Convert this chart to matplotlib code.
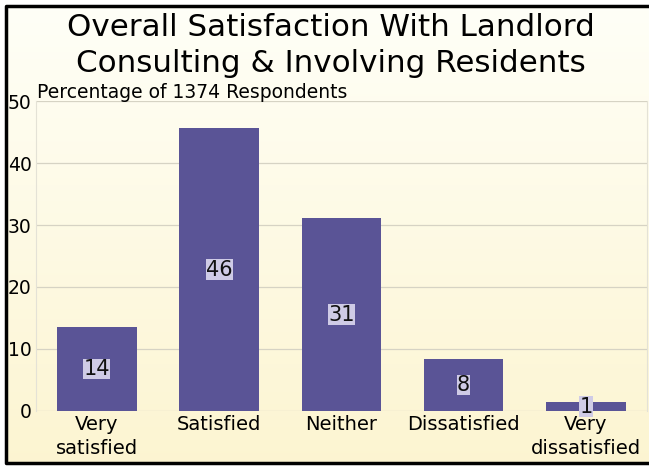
import numpy as np
import matplotlib.pyplot as plt

# data
categories = ["Very\nsatisfied", "Satisfied", "Neither", "Dissatisfied", "Very\ndissatisfied"]
values = [13.5, 45.6, 31.1, 8.3, 1.4]
labels = ["14", "46", "31", "8", "1"]
yticks = [0, 10, 20, 30, 40, 50]

BAR_COLOR = "#5a5496"
LABEL_BOX = "#cfcbe6"
W, H = 649, 468


def main():
    fig = plt.figure(figsize=(W / 100, H / 100), dpi=100)
    fig.patch.set_facecolor("white")

    # background gradient inside the frame: white at top -> pale yellow at bottom
    x0, y0, y1 = 6 / W, 1 - 463 / H, 1 - 6 / H
    bg = fig.add_axes([x0, y0, 1 - x0 + 0.01, y1 - y0], zorder=-10)
    top = np.array([1.0, 1.0, 0.97])
    bottom = np.array([0.99, 0.96, 0.82])
    t = np.linspace(0, 1, 256)[:, None]
    grad = top * (1 - t) + bottom * t
    bg.imshow(grad[:, None, :].repeat(2, axis=1), aspect="auto", extent=[0, 1, 0, 1])
    bg.set_axis_off()
    # black frame, open on the right (cropped)
    bg.plot([1.05, 0, 0, 1.05], [1, 1, 0, 0], color="black", linewidth=2.5,
            transform=bg.transAxes, clip_on=False)

    ax = fig.add_axes([0.055, 0.122, 0.942, 0.662])
    ax.patch.set_alpha(0)
    x = np.arange(len(categories))
    bars = ax.bar(x, values, width=0.65, color=BAR_COLOR, zorder=2)

    for b, lab in zip(bars, labels):
        ax.text(b.get_x() + b.get_width() / 2, b.get_height() / 2, lab,
                ha="center", va="center", fontsize=15, color="#111111", zorder=3,
                bbox=dict(facecolor=LABEL_BOX, edgecolor="none", pad=0.2))

    ax.set_xlim(-0.5, len(categories) - 0.5)
    ax.set_ylim(0, 50)
    ax.set_yticks(yticks)
    ax.set_xticks(x)
    ax.set_xticklabels(categories, fontsize=14, linespacing=1.3)
    ax.tick_params(axis="y", labelsize=13.5, length=0, pad=3)
    ax.tick_params(axis="x", length=0, pad=3)
    ax.grid(axis="y", color="#d6d3c4", linewidth=0.9, zorder=0)
    for s in ax.spines.values():
        s.set_visible(False)
    for side in ("left", "right"):
        ax.spines[side].set_visible(True)
        ax.spines[side].set_color("#e4e2d6")
        ax.spines[side].set_linewidth(0.8)

    fig.text(0.51, 0.972, "Overall Satisfaction With Landlord\nConsulting & Involving Residents",
             ha="center", va="top", fontsize=22.3, linespacing=1.32)
    fig.text(0.057, 0.783, "Percentage of 1374 Respondents", ha="left", va="bottom", fontsize=13.5)

    fig.savefig("out.png", dpi=100)


if __name__ == "__main__":
    main()
